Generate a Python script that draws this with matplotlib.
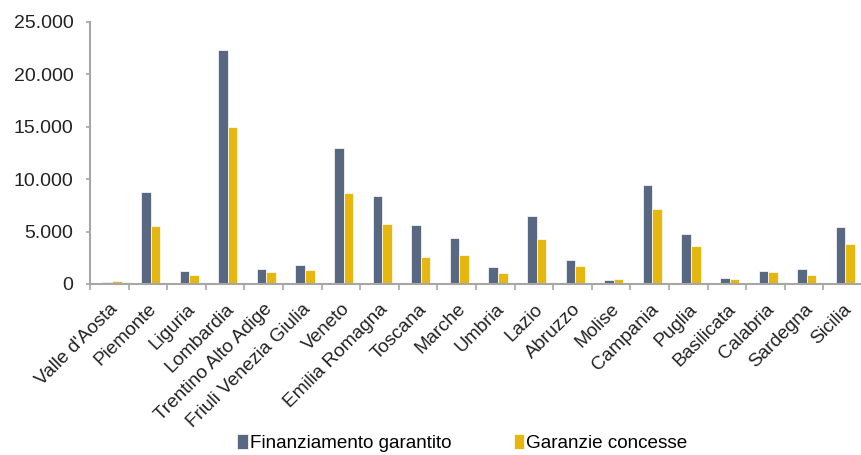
import matplotlib.pyplot as plt
import numpy as np
from matplotlib.ticker import FuncFormatter, FixedLocator

plt.rcParams['font.family'] = ['Liberation Sans', 'DejaVu Sans']

regioni = ["Valle d'Aosta", "Piemonte", "Liguria", "Lombardia", "Trentino Alto Adige",
           "Friuli Venezia Giulia", "Veneto", "Emilia Romagna", "Toscana", "Marche",
           "Umbria", "Lazio", "Abruzzo", "Molise", "Campania", "Puglia", "Basilicata",
           "Calabria", "Sardegna", "Sicilia"]
finanziamento = [150, 8800, 1200, 22300, 1400, 1800, 13000, 8400, 5600, 4350,
                 1600, 6500, 2250, 350, 9400, 4800, 550, 1200, 1400, 5400]
garanzie = [250, 5500, 850, 15000, 1100, 1300, 8700, 5700, 2600, 2750,
            1050, 4250, 1750, 450, 7200, 3600, 450, 1100, 850, 3800]

blu = "#586882"
giallo = "#e6b70f"
grigio = "#a6a6a6"

fig = plt.figure(figsize=(8.61, 4.55), dpi=100)
ax = fig.add_axes([90 / 861, 1 - 284 / 455, 772 / 861, 262 / 455])

x = np.arange(len(regioni))
w = 0.25
shift = 0.07
ax.bar(x + shift - w / 2, finanziamento, width=w, color=blu, edgecolor="white",
       linewidth=0.5, label="Finanziamento garantito")
ax.bar(x + shift + w / 2, garanzie, width=w, color=giallo, edgecolor="white",
       linewidth=0.5, label="Garanzie concesse")

ax.set_xlim(-0.5, len(regioni) - 0.5)
ax.set_ylim(0, 25000)
ax.set_yticks(range(0, 25001, 5000))
ax.yaxis.set_major_formatter(FuncFormatter(lambda v, p: f"{int(v):,}".replace(",", ".")))

ax.set_xticks(x)
ax.set_xticklabels(regioni, rotation=45, ha="right", rotation_mode="anchor", fontsize=13.7)
ax.xaxis.set_minor_locator(FixedLocator(np.arange(-0.5, len(regioni), 1.0)))
ax.tick_params(axis="x", which="major", length=0, pad=12)
ax.tick_params(axis="x", which="minor", length=4, width=1.2, color=grigio, direction="out")
ax.tick_params(axis="y", length=3, width=1.2, color=grigio, labelsize=14, pad=9,
               labelcolor="#222222")
ax.tick_params(axis="x", labelcolor="#222222")

for s in ["top", "right"]:
    ax.spines[s].set_visible(False)
for s in ["left", "bottom"]:
    ax.spines[s].set_color(grigio)
    ax.spines[s].set_linewidth(1.5)

fig.legend(loc="lower center", bbox_to_anchor=(0.537, -0.03), ncol=2, frameon=False,
           fontsize=13.6, handlelength=0.55, handleheight=0.85, handletextpad=0.12,
           columnspacing=3.3)

fig.savefig("out.png", dpi=100)
